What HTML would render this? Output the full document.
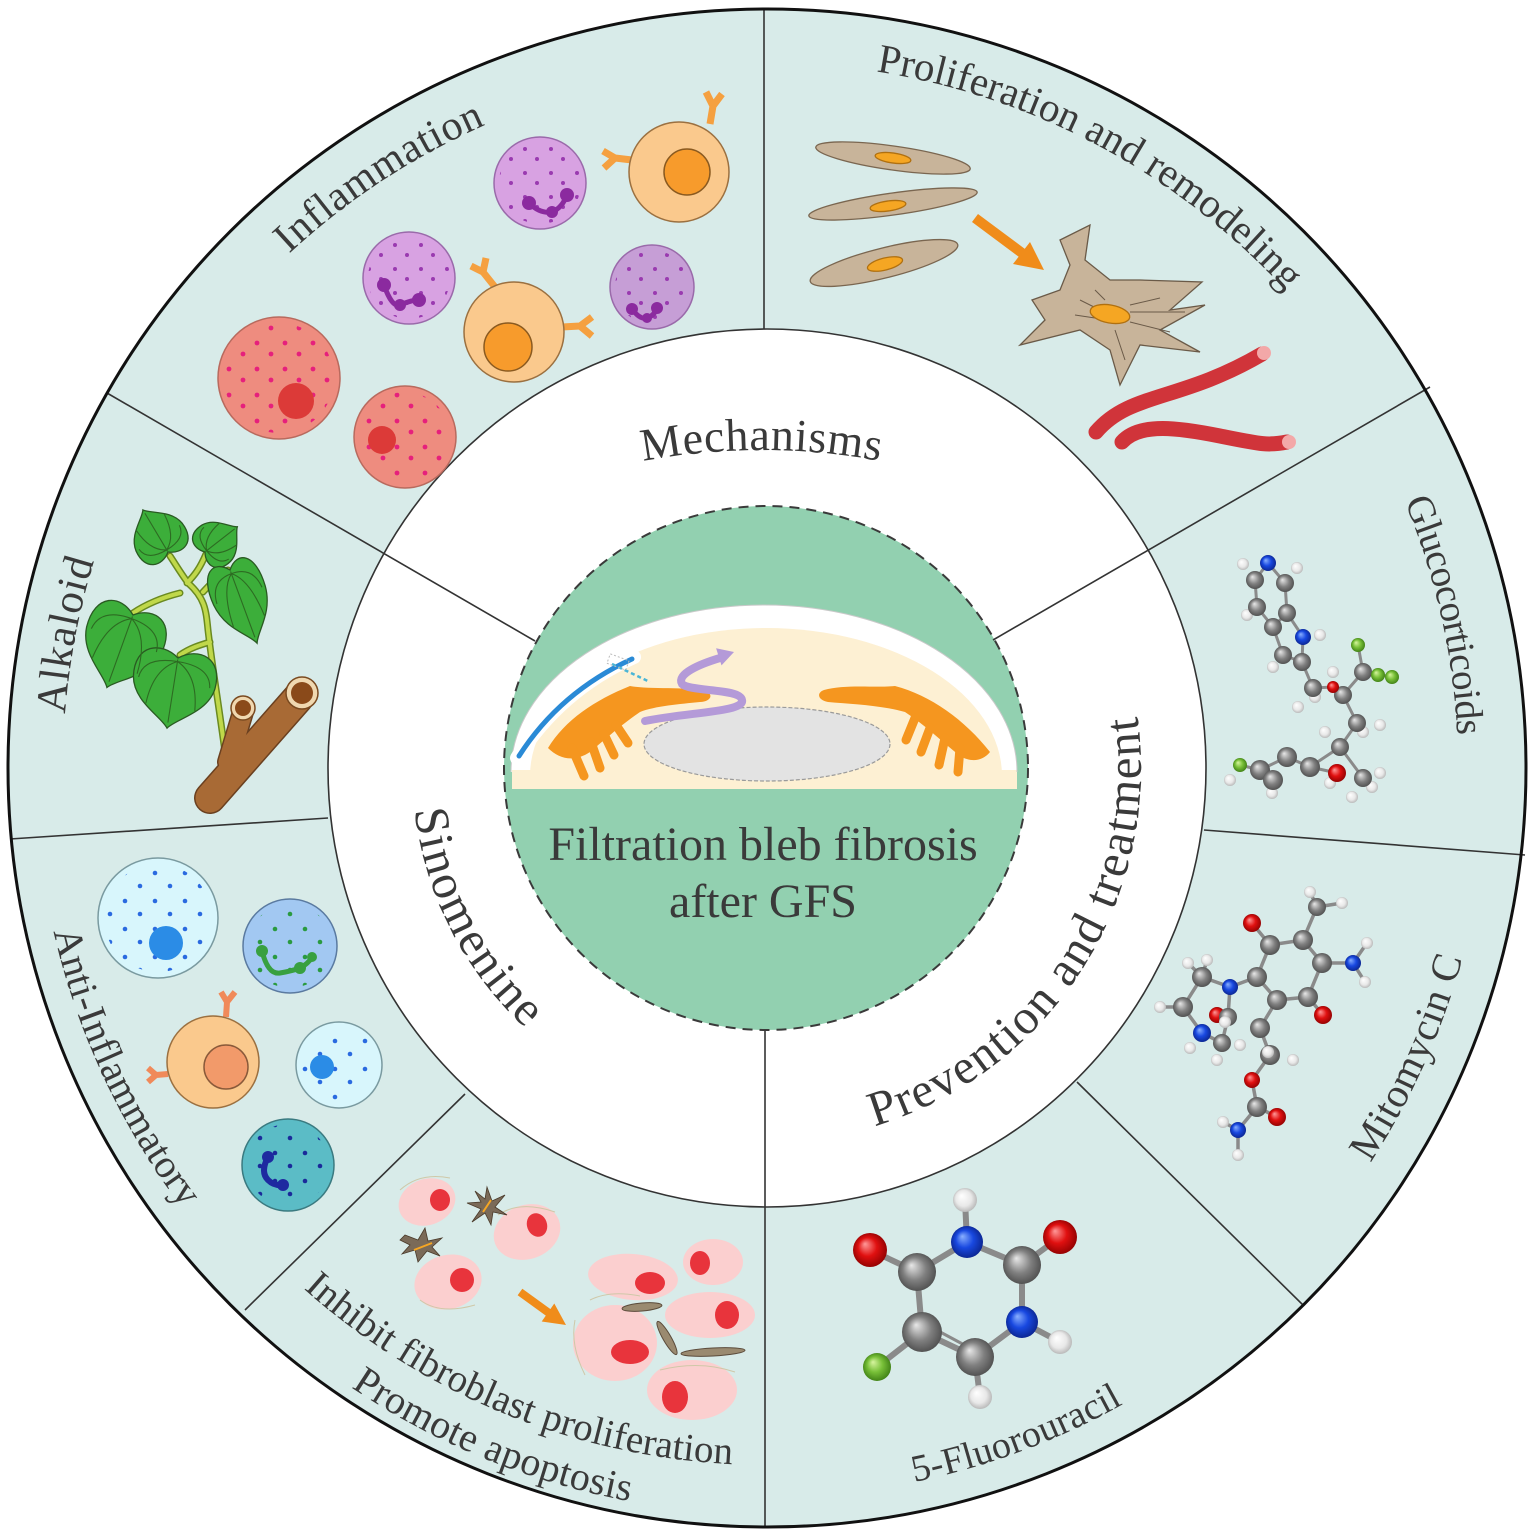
<!DOCTYPE html>
<html><head><meta charset="utf-8"><style>
html,body{margin:0;padding:0;background:#fff;}
svg{display:block;}
text{font-family:"Liberation Serif","Times New Roman",serif;fill:#3a3a3a;}
</style></head><body>
<svg width="1536" height="1536" viewBox="0 0 1536 1536" xmlns="http://www.w3.org/2000/svg">
<defs>
 <radialGradient id="gC" cx="50%" cy="50%" r="55%" fx="35%" fy="32%"><stop offset="0" stop-color="#e8e8e8"/><stop offset="0.55" stop-color="#808080"/><stop offset="1" stop-color="#4a4a4a"/></radialGradient>
 <radialGradient id="gH" cx="50%" cy="50%" r="55%" fx="35%" fy="32%"><stop offset="0" stop-color="#ffffff"/><stop offset="0.6" stop-color="#e8e8e8"/><stop offset="1" stop-color="#b0b0b0"/></radialGradient>
 <radialGradient id="gO" cx="50%" cy="50%" r="55%" fx="35%" fy="32%"><stop offset="0" stop-color="#ff9a9a"/><stop offset="0.5" stop-color="#e01010"/><stop offset="1" stop-color="#8a0000"/></radialGradient>
 <radialGradient id="gN" cx="50%" cy="50%" r="55%" fx="35%" fy="32%"><stop offset="0" stop-color="#8ab0ff"/><stop offset="0.5" stop-color="#1848e0"/><stop offset="1" stop-color="#0a2288"/></radialGradient>
 <radialGradient id="gF" cx="50%" cy="50%" r="55%" fx="35%" fy="32%"><stop offset="0" stop-color="#d8f5a0"/><stop offset="0.5" stop-color="#78c038"/><stop offset="1" stop-color="#3a7a12"/></radialGradient>
 <pattern id="pr" width="28" height="26" patternUnits="userSpaceOnUse"><circle cx="5" cy="5" r="2.4" fill="#e6207c"/><circle cx="19" cy="16" r="2.4" fill="#e6207c"/></pattern>
 <pattern id="pp" width="26" height="24" patternUnits="userSpaceOnUse"><circle cx="5" cy="5" r="2" fill="#9a3ab0"/><circle cx="17" cy="15" r="2" fill="#9a3ab0"/></pattern>
 <pattern id="pb" width="30" height="28" patternUnits="userSpaceOnUse"><circle cx="5" cy="5" r="2.3" fill="#2a6ae0"/><circle cx="20" cy="18" r="2.3" fill="#2a6ae0"/></pattern>
 <pattern id="pg" width="30" height="28" patternUnits="userSpaceOnUse"><circle cx="5" cy="5" r="2.3" fill="#2a9a40"/><circle cx="20" cy="18" r="2.3" fill="#2a9a40"/></pattern>
 <pattern id="pt" width="30" height="28" patternUnits="userSpaceOnUse"><circle cx="5" cy="5" r="2.3" fill="#1a2a9a"/><circle cx="20" cy="18" r="2.3" fill="#1a2a9a"/></pattern>
 <clipPath id="cin"><circle cx="766" cy="768" r="261"/></clipPath>

 <path id="tInfl" d="M 289.1 253.8 A 702 702 0 0 1 486.0 124.7"/>
 <path id="tProl" d="M 876.1 71.5 A 705 705 0 0 1 1285.9 290.8"/>
 <path id="tAlk" d="M 65.1 714.0 A 704 704 0 0 1 94.1 561.0"/>
 <path id="tGluc" d="M 1404.5 501.3 A 691 691 0 0 1 1457.2 734.8"/>
 <path id="tMito" d="M 1370.3 1162.8 A 721 721 0 0 0 1462.4 958.2"/>
 <path id="tFU" d="M 914.2 1482.0 A 729 729 0 0 0 1123.8 1403.7"/>
 <path id="tAnti" d="M 53.5 931.4 A 732 732 0 0 0 182.4 1208.5"/>
 <path id="tInh" d="M 303.6 1288.7 A 697 697 0 0 0 733.0 1464.2"/>
 <path id="tProm" d="M 351.0 1387.3 A 746 746 0 0 0 629.8 1501.3"/>
 <path id="tMech" d="M 643 461.2 A 640 640 0 0 1 880 461"/>
 <path id="tSino" d="M 414.5 810.0 A 355 355 0 0 0 525.3 1028.1"/>
 <path id="tPrev" d="M 874.5 1126.2 A 374 374 0 0 0 1137.4 716.6"/>
</defs>

<rect width="1536" height="1536" fill="#fff"/>
<circle cx="767" cy="768" r="759" fill="#d8ebe9"/>
<circle cx="767" cy="768" r="439" fill="#fff"/>
<circle cx="766" cy="768" r="262" fill="#92d0b0"/>

<!-- Eye illustration -->
<g clip-path="url(#cin)">
 <path d="M 511 772 A 253 167 0 0 1 1017 772 Z" fill="#fff"/>
 <path d="M 530 776 A 236 148 0 0 1 1002 776 Z" fill="#fdf0d3"/>
 <rect x="512" y="770" width="505" height="19" fill="#fdf0d3"/>
 <path d="M 511 772 A 253 167 0 0 1 1017 772" fill="none" stroke="#c9c9c9" stroke-width="1"/>
 <ellipse cx="767" cy="744" rx="123" ry="37" fill="#e3e3e3" stroke="#9a9a9a" stroke-width="1.2" stroke-dasharray="4 2"/>
 <path d="M 517 758 Q 560 690 634 657" fill="none" stroke="#fff" stroke-width="14" stroke-linecap="round"/>
 <path d="M 519 756 Q 560 692 632 659" fill="none" stroke="#2a8ad6" stroke-width="5" stroke-linecap="round"/>
 <path d="M 612 664 L 650 682" stroke="#49b5d6" stroke-width="2.5" stroke-dasharray="4 3"/>
 <rect x="608" y="657" width="20" height="10" fill="none" stroke="#bbb" stroke-width="1" stroke-dasharray="2 2" transform="rotate(20 618 662)"/>
 <!-- left ciliary -->
 <path d="M 548 748 C 565 720, 595 700, 630 686 C 650 690, 690 686, 708 692 C 714 697, 708 702, 700 702 C 680 704, 655 706, 640 712 C 625 722, 610 735, 590 752 C 575 762, 560 760, 548 748 Z" fill="#f5961f"/>
 <g stroke="#f5961f" stroke-width="9" stroke-linecap="round" fill="none">
  <path d="M 572 748 L 584 776"/><path d="M 591 742 L 600 768"/><path d="M 604 734 L 614 755"/><path d="M 616 725 L 628 743"/>
 </g>
 <!-- right ciliary -->
 <path d="M 824 690 C 845 684, 875 688, 895 686 C 930 695, 965 720, 990 752 C 982 762, 970 762, 960 756 C 940 740, 925 725, 905 712 C 880 705, 850 704, 828 702 C 818 700, 816 693, 824 690 Z" fill="#f5961f"/>
 <g stroke="#f5961f" stroke-width="9" stroke-linecap="round" fill="none">
  <path d="M 915 718 L 906 740"/><path d="M 930 728 L 921 752"/><path d="M 945 738 L 939 765"/><path d="M 960 748 L 958 772"/>
 </g>
 <!-- purple arrow -->
 <path d="M 645 721 C 690 712, 745 712, 742 700 C 740 688, 690 692, 682 684 C 676 674, 700 664, 720 658" fill="none" stroke="#b49ad8" stroke-width="8" stroke-linecap="round"/>
 <polygon points="734,652 721.5,665.4 716.1,648.2" fill="#b49ad8"/>
</g>

<!-- spokes -->
<g stroke="#333" stroke-width="1.6" fill="none">
 <line x1="764" y1="9" x2="764" y2="329"/>
 <line x1="535" y1="641" x2="107" y2="393"/>
 <line x1="993" y1="640" x2="1430" y2="387"/>
 <line x1="765" y1="1030" x2="765" y2="1527"/>
 <line x1="10" y1="839" x2="328" y2="818"/>
 <line x1="245" y1="1310" x2="465" y2="1094"/>
 <line x1="1204" y1="830" x2="1525" y2="855"/>
 <line x1="1077" y1="1082" x2="1304" y2="1306"/>
</g>
<circle cx="767" cy="768" r="439" fill="none" stroke="#333" stroke-width="1.6"/>
<circle cx="766" cy="768" r="262" fill="none" stroke="#3a3a3a" stroke-width="2" stroke-dasharray="10 7"/>
<circle cx="767" cy="768" r="759" fill="none" stroke="#111" stroke-width="3"/>

<!-- Inflammation cells -->
<g stroke-width="1.5">
 <circle cx="279" cy="378" r="61" fill="#ee8c7f" stroke="#b86a5e"/>
 <circle cx="279" cy="378" r="55" fill="url(#pr)" stroke="none"/>
 <circle cx="296" cy="401" r="18" fill="#dc3a38"/>
 <circle cx="405" cy="437" r="51" fill="#ee8c7f" stroke="#b86a5e"/>
 <circle cx="405" cy="437" r="45" fill="url(#pr)" stroke="none"/>
 <circle cx="382" cy="440" r="14" fill="#dc3a38"/>

 <circle cx="409" cy="278" r="46" fill="#d8a2e2" stroke="#9a6aaa"/>
 <circle cx="409" cy="278" r="41" fill="url(#pp)" stroke="none"/>
 <circle cx="540" cy="183" r="46" fill="#d8a2e2" stroke="#9a6aaa"/>
 <circle cx="540" cy="183" r="41" fill="url(#pp)" stroke="none"/>
 <circle cx="652" cy="287" r="42" fill="#c69ed6" stroke="#9a6aaa"/>
 <circle cx="652" cy="287" r="37" fill="url(#pp)" stroke="none"/>
 <g fill="none" stroke="#8b2a9f" stroke-width="5" stroke-linecap="round">
  <path d="M 384 285 Q 392 308 400 305 Q 412 300 418 300"/>
  <path d="M 529 203 Q 540 214 552 212 Q 562 208 567 195"/>
  <path d="M 632 309 Q 640 320 647 318 Q 654 316 657 308"/>
 </g>
 <g fill="#8b2a9f">
  <circle cx="384" cy="285" r="7"/><circle cx="400" cy="305" r="6"/><circle cx="419" cy="300" r="7"/>
  <circle cx="529" cy="203" r="7"/><circle cx="552" cy="212" r="6"/><circle cx="567" cy="195" r="7"/>
  <circle cx="632" cy="309" r="6"/><circle cx="647" cy="318" r="5"/><circle cx="657" cy="308" r="6"/>
 </g>

 <g fill="none" stroke="#f5a040" stroke-width="7">
  <path d="M 710 124 L 713 106 M 713 106 L 706 92 M 713 106 L 722 94"/>
  <path d="M 632 160 L 615 158 M 615 158 L 603 151 M 615 158 L 604 168"/>
  <path d="M 495 287 L 483 272 M 483 272 L 486 258 M 483 272 L 471 266"/>
  <path d="M 562 327 L 580 326 M 580 326 L 592 317 M 580 326 L 592 336"/>
 </g>
 <circle cx="679" cy="172" r="50" fill="#fac98d" stroke="#9b7040"/>
 <circle cx="687" cy="172" r="23" fill="#f79b2c" stroke="#8a5a20"/>
 <circle cx="514" cy="332" r="50" fill="#fac98d" stroke="#9b7040"/>
 <circle cx="508" cy="347" r="24" fill="#f79b2c" stroke="#8a5a20"/>
</g>

<!-- Proliferation and remodeling -->
<g stroke="#7a6650" stroke-width="1.3">
 <ellipse cx="893" cy="158" rx="78" ry="12" fill="#c8b49a" transform="rotate(8 893 158)"/>
 <ellipse cx="893" cy="158" rx="18" ry="5" fill="#f5a623" stroke="#b07010" transform="rotate(8 893 158)"/>
 <ellipse cx="893" cy="204" rx="85" ry="11" fill="#c8b49a" transform="rotate(-8 893 204)"/>
 <ellipse cx="888" cy="206" rx="18" ry="5" fill="#f5a623" stroke="#b07010" transform="rotate(-8 888 206)"/>
 <ellipse cx="884" cy="263" rx="76" ry="15" fill="#c8b49a" transform="rotate(-14 884 263)"/>
 <ellipse cx="885" cy="264" rx="18" ry="6" fill="#f5a623" stroke="#b07010" transform="rotate(-14 885 264)"/>
 <polygon points="1060,240 1090,225 1085,260 1110,280 1140,280 1202,282 1170,310 1205,305 1160,330 1200,352 1140,345 1120,385 1110,350 1080,330 1020,345 1045,320 1032,300 1060,290 1070,265" fill="#c8b49a" stroke="#6a5a48"/>
 <g stroke="#6a5a48" stroke-width="1" fill="none">
  <path d="M1080 300 L1100 310 M1075 315 L1095 318 M1130 305 L1160 298 M1130 322 L1170 332 M1115 330 L1125 360 M1095 290 L1105 300 M1130 312 L1185 312"/>
 </g>
 <ellipse cx="1110" cy="314" rx="20" ry="9" fill="#f5a623" stroke="#b07010" transform="rotate(10 1110 314)"/>
</g>
<line x1="975" y1="218" x2="1022" y2="253" stroke="#f08c1a" stroke-width="10"/>
<polygon points="1044,270 1013,264 1030,242" fill="#f08c1a"/>
<g fill="none" stroke-linecap="round">
 <path d="M 1096 432 C 1130 392, 1180 402, 1262 354" stroke="#d0343a" stroke-width="15"/>
 <path d="M 1122 442 C 1140 422, 1180 428, 1220 436 S 1268 446, 1287 442" stroke="#d0343a" stroke-width="15"/>
</g>
<circle cx="1264" cy="353" r="7" fill="#f3a8a8"/>
<circle cx="1289" cy="442" r="7" fill="#f3a8a8"/>

<!-- Glucocorticoids molecule -->
<g stroke="#8a8a8a" stroke-width="3" fill="none">
 <path d="M1268 563 L1255 580 M1268 563 L1285 583 M1255 580 L1257 607 M1285 583 L1287 613 M1257 607 L1273 627 M1287 613 L1273 627 M1287 613 L1303 637 M1273 627 L1283 655 M1283 655 L1302 662 M1303 637 L1302 662 M1302 662 L1313 688 M1313 688 L1333 687 L1343 695 L1363 672 M1363 672 L1358 645 M1363 672 L1392 677 M1343 695 L1357 723 L1340 747 L1310 767 M1340 747 L1363 778 M1310 767 L1287 757 L1260 770 L1240 765 M1260 770 L1273 780 M1310 767 L1337 773"/>
</g>
<g>
 <circle cx="1243" cy="564" r="6" fill="url(#gH)"/><circle cx="1297" cy="568" r="6" fill="url(#gH)"/>
 <circle cx="1247" cy="615" r="6" fill="url(#gH)"/><circle cx="1320" cy="635" r="6" fill="url(#gH)"/>
 <circle cx="1273" cy="667" r="6" fill="url(#gH)"/><circle cx="1333" cy="672" r="6" fill="url(#gH)"/>
 <circle cx="1298" cy="707" r="6" fill="url(#gH)"/><circle cx="1315" cy="697" r="6" fill="url(#gH)"/>
 <circle cx="1380" cy="725" r="6" fill="url(#gH)"/><circle cx="1363" cy="732" r="6" fill="url(#gH)"/>
 <circle cx="1325" cy="732" r="6" fill="url(#gH)"/><circle cx="1330" cy="783" r="6" fill="url(#gH)"/>
 <circle cx="1230" cy="780" r="6" fill="url(#gH)"/><circle cx="1272" cy="793" r="6" fill="url(#gH)"/>
 <circle cx="1380" cy="773" r="6" fill="url(#gH)"/><circle cx="1372" cy="787" r="6" fill="url(#gH)"/>
 <circle cx="1352" cy="797" r="6" fill="url(#gH)"/>
 <circle cx="1255" cy="580" r="9" fill="url(#gC)"/><circle cx="1285" cy="583" r="9" fill="url(#gC)"/>
 <circle cx="1257" cy="607" r="9" fill="url(#gC)"/><circle cx="1287" cy="613" r="9" fill="url(#gC)"/>
 <circle cx="1273" cy="627" r="9" fill="url(#gC)"/><circle cx="1283" cy="655" r="9" fill="url(#gC)"/>
 <circle cx="1302" cy="662" r="9" fill="url(#gC)"/><circle cx="1313" cy="688" r="9" fill="url(#gC)"/>
 <circle cx="1343" cy="695" r="9" fill="url(#gC)"/><circle cx="1363" cy="672" r="9" fill="url(#gC)"/>
 <circle cx="1357" cy="723" r="9" fill="url(#gC)"/><circle cx="1340" cy="747" r="9" fill="url(#gC)"/>
 <circle cx="1287" cy="757" r="10" fill="url(#gC)"/><circle cx="1310" cy="767" r="10" fill="url(#gC)"/>
 <circle cx="1260" cy="770" r="10" fill="url(#gC)"/><circle cx="1273" cy="780" r="10" fill="url(#gC)"/>
 <circle cx="1363" cy="778" r="9" fill="url(#gC)"/>
 <circle cx="1268" cy="563" r="8" fill="url(#gN)"/><circle cx="1303" cy="637" r="8" fill="url(#gN)"/>
 <circle cx="1333" cy="687" r="6" fill="url(#gO)"/><circle cx="1337" cy="773" r="9" fill="url(#gO)"/>
 <circle cx="1358" cy="645" r="7" fill="url(#gF)"/><circle cx="1378" cy="675" r="7" fill="url(#gF)"/>
 <circle cx="1392" cy="677" r="7" fill="url(#gF)"/><circle cx="1240" cy="765" r="7" fill="url(#gF)"/>
</g>

<!-- Mitomycin C molecule -->
<g stroke="#8a8a8a" stroke-width="3.5" fill="none">
 <path d="M1252 923 L1270 945 L1303 940 L1317 907 M1303 940 L1322 963 L1353 963 M1322 963 L1308 997 L1323 1015 M1308 997 L1277 1000 L1257 977 L1270 945 M1257 977 L1230 987 L1202 977 L1183 1007 L1202 1033 L1222 1043 L1228 1017 L1230 987 M1277 1000 L1260 1028 L1270 1055 L1252 1080 L1257 1107 L1277 1117 M1257 1107 L1238 1130 L1238 1155 M1238 1130 L1223 1122 M1353 963 L1367 943 M1353 963 L1365 982 M1317 907 L1310 892 M1317 907 L1342 903 M1183 1007 L1160 1007 M1202 977 L1188 963 M1202 977 L1207 960 M1228 1017 L1217 1015"/>
</g>
<g>
 <circle cx="1310" cy="892" r="6" fill="url(#gH)"/><circle cx="1342" cy="903" r="6" fill="url(#gH)"/>
 <circle cx="1367" cy="943" r="6" fill="url(#gH)"/><circle cx="1365" cy="982" r="6" fill="url(#gH)"/>
 <circle cx="1188" cy="963" r="6" fill="url(#gH)"/><circle cx="1207" cy="960" r="6" fill="url(#gH)"/>
 <circle cx="1160" cy="1007" r="6" fill="url(#gH)"/><circle cx="1240" cy="1045" r="6" fill="url(#gH)"/>
 <circle cx="1190" cy="1048" r="6" fill="url(#gH)"/><circle cx="1217" cy="1060" r="6" fill="url(#gH)"/>
 <circle cx="1293" cy="1060" r="6" fill="url(#gH)"/><circle cx="1223" cy="1122" r="6" fill="url(#gH)"/>
 <circle cx="1238" cy="1155" r="6" fill="url(#gH)"/>
 <circle cx="1317" cy="907" r="9" fill="url(#gC)"/><circle cx="1270" cy="945" r="10" fill="url(#gC)"/>
 <circle cx="1303" cy="940" r="10" fill="url(#gC)"/><circle cx="1322" cy="963" r="10" fill="url(#gC)"/>
 <circle cx="1257" cy="977" r="10" fill="url(#gC)"/><circle cx="1202" cy="977" r="10" fill="url(#gC)"/>
 <circle cx="1277" cy="1000" r="10" fill="url(#gC)"/><circle cx="1308" cy="997" r="10" fill="url(#gC)"/>
 <circle cx="1183" cy="1007" r="10" fill="url(#gC)"/><circle cx="1217" cy="1015" r="8" fill="url(#gO)"/>
 <circle cx="1228" cy="1017" r="9" fill="url(#gC)"/><circle cx="1260" cy="1028" r="10" fill="url(#gC)"/>
 <circle cx="1222" cy="1043" r="9" fill="url(#gC)"/><circle cx="1270" cy="1055" r="10" fill="url(#gC)"/>
 <circle cx="1257" cy="1107" r="10" fill="url(#gC)"/>
 <circle cx="1225" cy="1022" r="6" fill="url(#gH)"/><circle cx="1268" cy="1052" r="6" fill="url(#gH)"/>
 <circle cx="1252" cy="923" r="9" fill="url(#gO)"/><circle cx="1323" cy="1015" r="9" fill="url(#gO)"/>
 <circle cx="1252" cy="1080" r="8" fill="url(#gO)"/><circle cx="1277" cy="1117" r="9" fill="url(#gO)"/>
 <circle cx="1353" cy="963" r="8" fill="url(#gN)"/><circle cx="1230" cy="987" r="8" fill="url(#gN)"/>
 <circle cx="1202" cy="1033" r="9" fill="url(#gN)"/><circle cx="1238" cy="1130" r="8" fill="url(#gN)"/>
</g>

<!-- 5-FU molecule -->
<g stroke="#8a8a8a" stroke-width="6" fill="none">
 <path d="M870 1250 L917 1272 L967 1242 L1022 1265 L1060 1237 M1022 1265 L1022 1322 L975 1357 L922 1332 L917 1272 M967 1242 L965 1200 M1022 1322 L1060 1342 M975 1357 L980 1397 M922 1332 L877 1367"/>
 <path d="M 929 1326 L 970 1348" stroke-width="3"/>
</g>
<g>
 <circle cx="965" cy="1200" r="12" fill="url(#gH)"/><circle cx="1060" cy="1342" r="12" fill="url(#gH)"/>
 <circle cx="980" cy="1397" r="12" fill="url(#gH)"/>
 <circle cx="917" cy="1272" r="19" fill="url(#gC)"/><circle cx="1022" cy="1265" r="19" fill="url(#gC)"/>
 <circle cx="922" cy="1332" r="20" fill="url(#gC)"/><circle cx="975" cy="1357" r="19" fill="url(#gC)"/>
 <circle cx="870" cy="1250" r="17" fill="url(#gO)"/><circle cx="1060" cy="1237" r="17" fill="url(#gO)"/>
 <circle cx="967" cy="1242" r="16" fill="url(#gN)"/><circle cx="1022" cy="1322" r="16" fill="url(#gN)"/>
 <circle cx="877" cy="1367" r="14" fill="url(#gF)"/>
</g>

<!-- Alkaloid plant -->
<g fill="none" stroke-linecap="round">
 <g stroke="#6a8a20" stroke-width="7">
  <path d="M225 752 C 218 700, 212 665, 208 630 C 206 610, 205 598, 188 583 C 180 572, 176 565, 170 556"/>
  <path d="M187 583 C 195 575, 200 568, 206 554"/>
  <path d="M203 592 C 212 582, 220 575, 228 570"/>
  <path d="M180 593 C 160 598, 145 605, 133 613"/>
  <path d="M210 642 C 200 645, 190 648, 180 655"/>
 </g>
 <g stroke="#c0d84a" stroke-width="4">
  <path d="M225 752 C 218 700, 212 665, 208 630 C 206 610, 205 598, 188 583 C 180 572, 176 565, 170 556"/>
  <path d="M187 583 C 195 575, 200 568, 206 554"/>
  <path d="M203 592 C 212 582, 220 575, 228 570"/>
  <path d="M180 593 C 160 598, 145 605, 133 613"/>
  <path d="M210 642 C 200 645, 190 648, 180 655"/>
 </g>
</g>
<g fill="#3cae3a" stroke="#2a5a22" stroke-width="1.3">
 <path vector-effect="non-scaling-stroke" transform="translate(168 552) rotate(149.2) scale(49 49)" d="M0 0 C -0.25 -0.2 -0.6 -0.1 -0.55 0.35 C -0.5 0.7 -0.1 0.85 0 1 C 0.1 0.85 0.5 0.7 0.55 0.35 C 0.6 -0.1 0.25 -0.2 0 0 Z"/>
 <path vector-effect="non-scaling-stroke" transform="translate(205 552) rotate(232) scale(42 41)" d="M0 0 C -0.25 -0.2 -0.6 -0.1 -0.55 0.35 C -0.5 0.7 -0.1 0.85 0 1 C 0.1 0.85 0.5 0.7 0.55 0.35 C 0.6 -0.1 0.25 -0.2 0 0 Z"/>
 <path vector-effect="non-scaling-stroke" transform="translate(230 570) rotate(-20.3) scale(50 78)" d="M0 0 C -0.25 -0.2 -0.6 -0.1 -0.55 0.35 C -0.5 0.7 -0.1 0.85 0 1 C 0.1 0.85 0.5 0.7 0.55 0.35 C 0.6 -0.1 0.25 -0.2 0 0 Z"/>
 <path vector-effect="non-scaling-stroke" transform="translate(133 615) rotate(19.8) scale(72 77)" d="M0 0 C -0.25 -0.2 -0.6 -0.1 -0.55 0.35 C -0.5 0.7 -0.1 0.85 0 1 C 0.1 0.85 0.5 0.7 0.55 0.35 C 0.6 -0.1 0.25 -0.2 0 0 Z"/>
 <path vector-effect="non-scaling-stroke" transform="translate(178 658) rotate(8.9) scale(75 71)" d="M0 0 C -0.25 -0.2 -0.6 -0.1 -0.55 0.35 C -0.5 0.7 -0.1 0.85 0 1 C 0.1 0.85 0.5 0.7 0.55 0.35 C 0.6 -0.1 0.25 -0.2 0 0 Z"/>
</g>
<g fill="none" stroke="#2d6b22" stroke-width="1.1">
 <path vector-effect="non-scaling-stroke" transform="translate(168 552) rotate(149.2) scale(49 49)" d="M0 0.02 L0 0.92 M0 0.05 Q -0.3 0.2 -0.33 0.7 M0 0.05 Q 0.3 0.2 0.33 0.7 M0 0.05 Q -0.45 0.05 -0.48 0.35 M0 0.05 Q 0.45 0.05 0.48 0.35"/>
 <path vector-effect="non-scaling-stroke" transform="translate(205 552) rotate(232) scale(42 41)" d="M0 0.02 L0 0.92 M0 0.05 Q -0.3 0.2 -0.33 0.7 M0 0.05 Q 0.3 0.2 0.33 0.7 M0 0.05 Q -0.45 0.05 -0.48 0.35 M0 0.05 Q 0.45 0.05 0.48 0.35"/>
 <path vector-effect="non-scaling-stroke" transform="translate(230 570) rotate(-20.3) scale(50 78)" d="M0 0.02 L0 0.92 M0 0.05 Q -0.3 0.2 -0.33 0.7 M0 0.05 Q 0.3 0.2 0.33 0.7 M0 0.05 Q -0.45 0.05 -0.48 0.35 M0 0.05 Q 0.45 0.05 0.48 0.35"/>
 <path vector-effect="non-scaling-stroke" transform="translate(133 615) rotate(19.8) scale(72 77)" d="M0 0.02 L0 0.92 M0 0.05 Q -0.3 0.2 -0.33 0.7 M0 0.05 Q 0.3 0.2 0.33 0.7 M0 0.05 Q -0.45 0.05 -0.48 0.35 M0 0.05 Q 0.45 0.05 0.48 0.35"/>
 <path vector-effect="non-scaling-stroke" transform="translate(178 658) rotate(8.9) scale(75 71)" d="M0 0.02 L0 0.92 M0 0.05 Q -0.3 0.2 -0.33 0.7 M0 0.05 Q 0.3 0.2 0.33 0.7 M0 0.05 Q -0.45 0.05 -0.48 0.35 M0 0.05 Q 0.45 0.05 0.48 0.35"/>
</g>
<g stroke-linecap="round" fill="none">
 <path d="M 210 798 L 298 698" stroke="#6a4020" stroke-width="32"/>
 <path d="M 228 762 L 243 712" stroke="#6a4020" stroke-width="22"/>
 <path d="M 210 798 L 298 698" stroke="#a86a35" stroke-width="29"/>
 <path d="M 228 762 L 243 712" stroke="#a86a35" stroke-width="19"/>
</g>
<circle cx="302" cy="693" r="16" fill="#f0d8b0" stroke="#7a4a20" stroke-width="1.5"/>
<circle cx="302" cy="693" r="11" fill="#8a4a1a"/>
<circle cx="243" cy="708" r="12" fill="#f0d8b0" stroke="#7a4a20" stroke-width="1.5"/>
<circle cx="243" cy="708" r="8" fill="#8a4a1a"/>

<!-- Anti-Inflammatory cells -->
<g stroke-width="1.5">
 <circle cx="158" cy="918" r="60" fill="#d8f6fc" stroke="#7a9aa0"/>
 <circle cx="158" cy="918" r="54" fill="url(#pb)" stroke="none"/>
 <circle cx="166" cy="943" r="17" fill="#2b8ce6"/>
 <circle cx="290" cy="946" r="47" fill="#a2c8f2" stroke="#5a7aa0"/>
 <circle cx="290" cy="946" r="42" fill="url(#pg)" stroke="none"/>
 <path d="M 262 951 Q 268 975 280 973 Q 292 971 300 968 Q 308 964 312 957" fill="none" stroke="#38a040" stroke-width="5" stroke-linecap="round"/>
 <circle cx="262" cy="951" r="6" fill="#38a040" stroke="none"/><circle cx="300" cy="968" r="6" fill="#38a040" stroke="none"/><circle cx="312" cy="957" r="5" fill="#38a040" stroke="none"/>
 <g fill="none" stroke="#f08a5a" stroke-width="6">
  <path d="M 226 1017 L 227 1002 M 227 1002 L 221 992 M 227 1002 L 235 992"/>
  <path d="M 168 1074 L 156 1075 M 156 1075 L 148 1068 M 156 1075 L 148 1082"/>
 </g>
 <circle cx="213" cy="1062" r="46" fill="#fac98d" stroke="#9b7040"/>
 <circle cx="226" cy="1067" r="22" fill="#f29a6a" stroke="#8a5a3a"/>
 <circle cx="339" cy="1065" r="43" fill="#d8f6fc" stroke="#7a9aa0"/>
 <circle cx="339" cy="1065" r="38" fill="url(#pb)" stroke="none"/>
 <circle cx="322" cy="1067" r="12" fill="#2b8ce6"/>
 <circle cx="288" cy="1165" r="46" fill="#5bbcc6" stroke="#3a7a80"/>
 <circle cx="288" cy="1165" r="41" fill="url(#pt)" stroke="none"/>
 <path d="M 268 1157 Q 260 1172 268 1180 Q 274 1186 283 1185" fill="none" stroke="#1e2aa0" stroke-width="6" stroke-linecap="round"/>
 <circle cx="268" cy="1157" r="6" fill="#1e2aa0" stroke="none"/><circle cx="283" cy="1185" r="6" fill="#1e2aa0" stroke="none"/>
</g>

<!-- Inhibit fibroblast cells -->
<g fill="#fbcfcf">
 <ellipse cx="427" cy="1202" rx="29" ry="23" transform="rotate(-20 427 1202)"/>
 <ellipse cx="527" cy="1232" rx="34" ry="27" transform="rotate(-20 527 1232)"/>
 <ellipse cx="448" cy="1282" rx="34" ry="27" transform="rotate(-15 448 1282)"/>
 <ellipse cx="633" cy="1277" rx="45" ry="23" transform="rotate(5 633 1277)"/>
 <ellipse cx="713" cy="1262" rx="30" ry="23"/>
 <ellipse cx="710" cy="1315" rx="45" ry="23"/>
 <ellipse cx="615" cy="1343" rx="42" ry="38"/>
 <ellipse cx="692" cy="1390" rx="45" ry="30"/>
</g>
<g fill="none" stroke="#cfc8a8" stroke-width="1">
 <path d="M 400 1190 Q 420 1172 450 1178"/><path d="M 498 1215 Q 520 1200 555 1212"/>
 <path d="M 420 1300 Q 440 1315 475 1305"/><path d="M 590 1300 Q 610 1290 640 1296"/>
 <path d="M 660 1370 Q 700 1360 735 1372"/><path d="M 575 1320 Q 570 1345 585 1375"/>
</g>
<g fill="#e8343c">
 <ellipse cx="440" cy="1200" rx="10" ry="11"/>
 <ellipse cx="537" cy="1225" rx="10" ry="12" transform="rotate(-20 537 1225)"/>
 <ellipse cx="462" cy="1280" rx="12" ry="12"/>
 <ellipse cx="650" cy="1283" rx="15" ry="11"/>
 <ellipse cx="700" cy="1263" rx="10" ry="12"/>
 <ellipse cx="727" cy="1315" rx="12" ry="14"/>
 <ellipse cx="630" cy="1352" rx="19" ry="12"/>
 <ellipse cx="675" cy="1397" rx="13" ry="16"/>
</g>
<g fill="#7a6a58" stroke="#4a3a2a" stroke-width="0.8">
 <polygon points="487,1187 492,1201 505,1195 495,1207 507,1215 493,1212 491,1225 485,1213 472,1222 481,1209 467,1203 481,1202 475,1191 485,1199"/>
 <polygon points="405,1235 418,1240 425,1228 428,1241 442,1238 432,1247 440,1256 427,1251 418,1262 415,1250 402,1254 410,1245 400,1240"/>
</g>
<line x1="483" y1="1212" x2="491" y2="1200" stroke="#f5a623" stroke-width="2"/>
<line x1="414" y1="1250" x2="432" y2="1243" stroke="#f5a623" stroke-width="2"/>
<g fill="#9a8a70" stroke="#5a4a3a" stroke-width="1">
 <ellipse cx="642" cy="1307" rx="20" ry="4" transform="rotate(-5 642 1307)"/>
 <ellipse cx="667" cy="1338" rx="19" ry="4" transform="rotate(60 667 1338)"/>
 <ellipse cx="713" cy="1352" rx="32" ry="4" transform="rotate(-3 713 1352)"/>
</g>
<line x1="520" y1="1292" x2="549" y2="1313" stroke="#f08c1a" stroke-width="8"/>
<polygon points="566,1325 541.7,1321.5 554.3,1303.5" fill="#f08c1a"/>

<!-- Center text -->
<text x="763" y="860" font-size="48" text-anchor="middle">Filtration bleb fibrosis</text>
<text x="763" y="917" font-size="48" text-anchor="middle">after GFS</text>

<!-- Ring labels -->
<text font-size="42"><textPath href="#tInfl" textLength="236" lengthAdjust="spacing">Inflammation</textPath></text>
<text font-size="41"><textPath href="#tProl" textLength="474" lengthAdjust="spacing">Proliferation and remodeling</textPath></text>
<text font-size="43"><textPath href="#tAlk" textLength="156" lengthAdjust="spacing">Alkaloid</textPath></text>
<text font-size="39"><textPath href="#tGluc" textLength="241" lengthAdjust="spacing">Glucocorticoids</textPath></text>
<text font-size="41"><textPath href="#tMito" textLength="225" lengthAdjust="spacing">Mitomycin C</textPath></text>
<text font-size="38"><textPath href="#tFU" textLength="224" lengthAdjust="spacing">5-Fluorouracil</textPath></text>
<text font-size="40"><textPath href="#tAnti" textLength="308" lengthAdjust="spacing">Anti-Inflammatory</textPath></text>
<text font-size="39"><textPath href="#tInh" textLength="472" lengthAdjust="spacing">Inhibit fibroblast proliferation</textPath></text>
<text font-size="40"><textPath href="#tProm" textLength="303" lengthAdjust="spacing">Promote apoptosis</textPath></text>
<text font-size="46"><textPath href="#tMech" textLength="238" lengthAdjust="spacing">Mechanisms</textPath></text>
<text font-size="49"><textPath href="#tSino" textLength="250" lengthAdjust="spacing">Sinomenine</textPath></text>
<text font-size="49"><textPath href="#tPrev" textLength="530" lengthAdjust="spacing">Prevention and treatment</textPath></text>
</svg>
</body></html>
